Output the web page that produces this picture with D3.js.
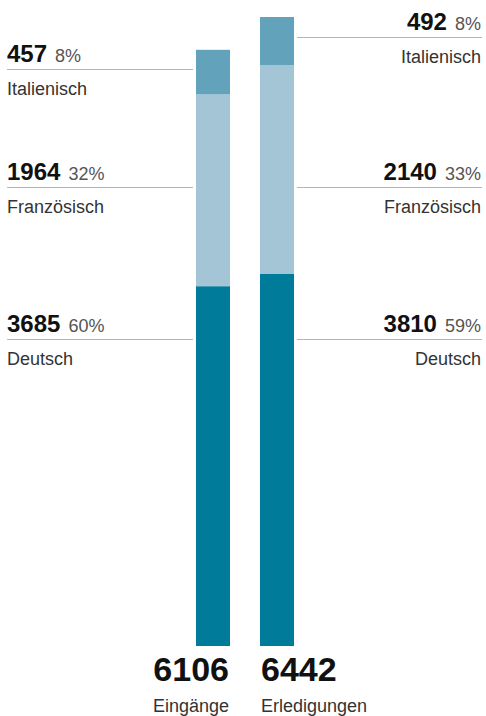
<!DOCTYPE html>
<html lang="de">
<head>
<meta charset="UTF-8">
<title>Eingänge und Erledigungen nach Sprache</title>
<script src="https://d3js.org/d3.v7.min.js"></script>
<style>
  body { margin: 0; background: #ffffff; }
  text { font-family: "Liberation Sans", Arial, sans-serif; }
</style>
</head>
<body>
<div id="chart"></div>
<script>
// data
var columns = ["Eingänge", "Erledigungen"];
var languages = ["Deutsch", "Französisch", "Italienisch"];
var eingaenge = [3685, 1964, 457];
var erledigungen = [3810, 2140, 492];
var percentEingaenge = [60, 32, 8];
var percentErledigungen = [59, 33, 8];
var totals = [6106, 6442];

var colors = {"Deutsch": "#007b99", "Französisch": "#a4c5d5", "Italienisch": "#63a2bb"};

var W = 486, H = 716;

var svg = d3.select("#chart")
  .append("svg")
    .attr("width", W)
    .attr("height", H);

// x: two bars side by side
var x = d3.scaleBand()
  .domain(columns)
  .range([196, 294])
  .paddingInner(0.46875)
  .paddingOuter(0);

// y: value scale, largest total reaches the top
var y = d3.scaleLinear()
  .domain([0, d3.max(totals)])
  .range([646, 17]);

// build stacked rows
var table = columns.map(function(c, i) {
  var vals = i == 0 ? eingaenge : erledigungen;
  var pcts = i == 0 ? percentEingaenge : percentErledigungen;
  var row = {column: c, total: totals[i], segs: []};
  var acc = 0;
  languages.forEach(function(l, j) {
    row.segs.push({column: c, lang: l, value: vals[j], pct: pcts[j], y0: acc, y1: acc + vals[j]});
    acc += vals[j];
  });
  return row;
});

// bars
var groups = svg.selectAll("g.col")
  .data(table)
  .enter()
  .append("g")
    .attr("class", "col");

groups.selectAll("rect")
  .data(function(d) { return d.segs; })
  .enter()
  .append("rect")
    .attr("x", function(d) { return x(d.column); })
    .attr("y", function(d) { return y(d.y1); })
    .attr("width", x.bandwidth())
    .attr("height", function(d) { return y(d.y0) - y(d.y1); })
    .attr("fill", function(d) { return colors[d.lang]; });

// label line positions (layout, not data)
var lineY = {"Deutsch": 339, "Französisch": 187};
function labelLine(d) {
  if (d.lang == "Italienisch") return y(d.y1) + 19.5;
  return lineY[d.lang];
}

table.forEach(function(row, i) {
  var left = i == 0;
  var bx = x(row.column);
  var x1 = left ? 7 : bx + x.bandwidth() + 3;
  var x2 = left ? bx - 3 : 482;
  var tx = left ? 7 : 481;
  var anchor = left ? "start" : "end";

  row.segs.forEach(function(s) {
    var ly = Math.round(labelLine(s)) + 0.5;
    svg.append("line")
      .attr("x1", x1).attr("x2", x2)
      .attr("y1", ly).attr("y2", ly)
      .attr("stroke", "#b5b5b5")
      .attr("stroke-width", 1.2);

    var t = svg.append("text")
      .attr("x", tx)
      .attr("y", ly - 8)
      .attr("text-anchor", anchor);
    t.append("tspan")
      .text(s.value)
      .style("font-size", "24px")
      .style("font-weight", "bold")
      .attr("fill", "#111");
    t.append("tspan")
      .text(" " + s.pct + "%")
      .attr("dx", 3)
      .style("font-size", "18px")
      .attr("fill", "#555");

    svg.append("text")
      .attr("x", tx)
      .attr("y", ly + 25)
      .attr("text-anchor", anchor)
      .style("font-size", "18px")
      .attr("fill", "#333")
      .text(s.lang);
  });

  // totals under the bars: left one ends at its bar, right one starts at its bar
  var cx = left ? bx + x.bandwidth() - 1 : bx + 1;
  var tanchor = left ? "end" : "start";
  svg.append("text")
    .attr("x", cx)
    .attr("y", 681)
    .attr("text-anchor", tanchor)
    .style("font-size", "34px")
    .style("font-weight", "bold")
    .attr("fill", "#111")
    .text(row.total);
  svg.append("text")
    .attr("x", cx)
    .attr("y", 712)
    .attr("text-anchor", tanchor)
    .style("font-size", "18px")
    .attr("fill", "#333")
    .text(row.column);
});
</script>
</body>
</html>
